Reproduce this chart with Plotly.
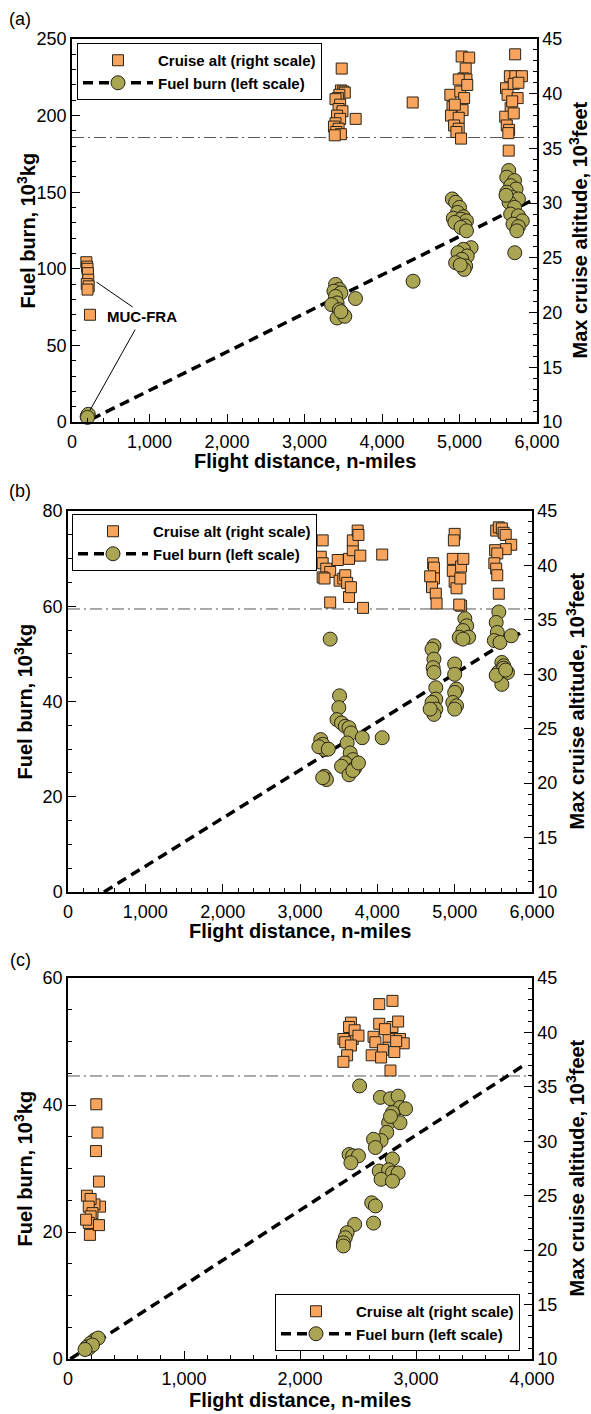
import plotly.graph_objects as go

# ---------------- data ----------------
# Panel (a)
A_ALT_D = [185, 195, 200, 205, 210, 190, 215, 200, 232,
           3480, 3470, 3500, 3520, 3450, 3430, 3400, 3460, 3440, 3490, 3420, 3460, 3400, 3380, 3440, 3410, 3470, 3390, 3660,
           4396,
           5028, 5125, 5080, 5050, 5090, 4990, 4882, 5010, 5060, 4910, 5040, 4890, 4990, 4930, 4990, 4960, 5100, 4940, 5020,
           5718, 5650, 5720, 5805, 5600, 5620, 5750, 5660, 5590, 5700, 5610, 5640, 5630, 5700, 5760, 5680, 5635]
A_ALT = [24.6, 24.2, 24.0, 23.6, 23.0, 22.6, 22.4, 22.1, 19.8,
         42.3, 40.3, 40.2, 40.1, 39.9, 39.6, 39.5, 39.0, 38.6, 38.4, 38.0, 37.7, 37.3, 37.0, 36.8, 36.5, 36.3, 36.2, 37.7,
         39.2,
         43.4, 43.3, 42.3, 41.4, 41.3, 41.3, 39.9, 40.2, 39.6, 38.8, 38.5, 38.0, 37.8, 37.1, 36.8, 36.5, 40.8, 39.0, 35.9,
         43.6, 41.6, 41.6, 41.6, 40.5, 39.9, 39.6, 38.7, 37.9, 38.2, 37.1, 36.7, 36.4, 40.9, 41.0, 39.3, 34.8]
A_FUEL_D = [195, 205, 210, 200,
            3401, 3450, 3380, 3470, 3400, 3420, 3350, 3450, 3500, 3420, 3520, 3470, 3658,
            4401,
            4907, 4950, 5000, 4975, 5050, 4920, 5020, 5090, 4940, 5070, 5020, 5090,
            5150, 5050, 4980, 5100, 5030, 4950, 5080, 5060, 5010,
            5635, 5610, 5710, 5660, 5730, 5610, 5680, 5760, 5640, 5710, 5660, 5760, 5810, 5690, 5760, 5740, 5713, 5600]
A_FUEL = [3.5, 4.5, 5.0, 3.0,
          89.8, 86.5, 85.4, 84.3, 82.0, 77.7, 76.6, 73.3, 70.0, 67.9, 69.0, 72.0, 80.6,
          91.9,
          145.6, 143.4, 140.1, 136.8, 134.0, 133.0, 132.4, 131.3, 130.3, 128.0, 127.0, 124.8,
          113.8, 112.7, 110.5, 108.4, 106.2, 104.0, 101.8, 99.6, 102.5,
          164.2, 159.8, 157.6, 154.3, 152.1, 150.0, 146.7, 145.6, 143.4, 140.1, 135.7, 134.6, 131.3, 129.2, 127.5, 124.8, 110.5, 148.0]
A_TREND_D = [250, 5950]
A_TREND_F = [1.8, 145.0]

# Panel (b)
B_ALT_D = [3293, 3268, 3293, 3340, 3390, 3293, 3317, 3390, 3488, 3512, 3560, 3585, 3634, 3683, 3683, 3746, 3756, 3780, 3634, 3610, 3658, 3815, 4063,
           4722, 4732, 4732, 4707, 4756, 4766, 4683,
           5000, 4990, 4976, 4976, 5000, 5024, 5083, 5112, 5073, 5083, 5059,
           5537, 5571, 5610, 5634, 5660, 5731, 5660, 5523, 5551, 5513, 5537, 5551, 5571]
B_ALT = [42.3, 40.8, 40.2, 39.7, 39.4, 38.9, 38.8, 36.6, 40.5, 38.6, 38.8, 39.1, 40.6, 41.4, 42.3, 43.2, 42.8, 40.9, 37.1, 38.4, 38.0, 36.1, 41.0,
         40.2, 39.8, 38.8, 38.0, 37.4, 36.5, 39.0,
         42.9, 42.3, 40.6, 39.5, 38.5, 37.9, 39.9, 40.6, 38.8, 36.3, 36.4,
         43.2, 43.5, 43.4, 43.0, 42.8, 41.9, 41.5, 41.4, 41.1, 40.2, 39.7, 39.1, 37.4]
B_FUEL_D = [3390,
            3268, 3293, 3317, 3244, 3366, 3317, 3342, 3293,
            3512, 3502, 3478, 3537, 3585, 3634, 3658, 3610, 3649, 3683, 3585, 3537, 3707, 3634, 3683, 3756, 3805, 4063,
            4732, 4707, 4732, 4722, 4732, 4756, 4756, 4707, 4756, 4732, 4683,
            5000, 5000, 5024, 5000, 4976, 5024, 5000, 5132, 5156, 5107, 5059, 5181, 5107,
            5571, 5537, 5551, 5513, 5586, 5732, 5610, 5634, 5561, 5683, 5634, 5610, 5537, 5659]
B_FUEL = [53.1,
          32.0, 31.0, 29.9, 30.5, 30.0, 24.3, 23.6, 24.0,
          41.2, 38.7, 36.2, 35.5, 34.8, 34.5, 33.4, 31.3, 29.2, 27.8, 27.1, 26.4, 26.0, 24.6, 25.5, 27.1, 32.4, 32.4,
          51.7, 51.0, 48.9, 47.1, 46.1, 42.9, 40.5, 39.8, 38.4, 37.3, 38.4,
          47.9, 45.7, 42.6, 41.9, 39.8, 39.1, 38.4, 57.4, 55.9, 54.9, 53.5, 53.5, 53.1,
          58.8, 56.6, 54.5, 52.8, 52.4, 53.8, 48.2, 47.5, 46.1, 46.1, 47.0, 43.6, 45.5, 46.6]
B_TREND_D = [465, 5880]
B_TREND_F = [0.0, 54.7]

# Panel (c)
C_ALT_D = [244, 254, 241, 267, 276, 228, 163, 195, 179, 211, 195, 179, 189, 267, 156,
           2439, 2423, 2455, 2471, 2504, 2374, 2390, 2439, 2406, 2374,
           2683, 2797, 2683, 2797, 2846, 2634, 2650, 2764, 2862, 2894, 2764, 2715, 2618, 2699, 2813, 2780, 2732, 2829]
C_ALT = [33.4, 30.8, 29.1, 26.3, 24.0, 24.2, 25.0, 24.7, 24.0, 23.4, 23.1, 22.5, 21.4, 22.3, 22.8,
         40.9, 40.5, 39.4, 40.2, 39.7, 39.4, 39.1, 38.8, 37.9, 37.3,
         42.6, 42.9, 40.8, 40.5, 41.0, 39.6, 39.1, 39.4, 39.4, 39.0, 38.6, 38.4, 37.9, 37.7, 38.2, 36.5, 40.3, 39.2]
C_FUEL_D = [228, 195, 163, 179, 260, 211, 147,
            2514, 2693, 2780, 2846, 2862, 2910, 2797, 2764, 2862, 2780, 2748, 2699, 2634, 2650,
            2423, 2455, 2504, 2439, 2797, 2683, 2764, 2797, 2846, 2699, 2797,
            2618, 2650, 2634, 2471, 2406, 2390, 2374, 2374]
C_FUEL = [3.0, 2.5, 1.9, 1.7, 3.3, 2.2, 1.5,
          43.0, 41.2, 41.0, 41.4, 39.6, 39.4, 38.8, 37.2, 37.2, 38.2, 35.7, 34.4, 34.6, 33.3,
          32.2, 32.0, 32.0, 30.9, 31.5, 29.6, 29.8, 29.3, 29.3, 28.3, 28.0,
          24.6, 24.1, 21.4, 21.2, 19.9, 19.1, 18.3, 17.8]
C_TREND_D = [20, 3950]
C_TREND_F = [0.0, 46.5]

ALT_REF = 36  # 10^3 ft reference cruise altitude

# ---------------- styling ----------------
W, H = 591, 1414
FONT = "Liberation Sans, Arial, Helvetica, sans-serif"
ORANGE = "#F8A45C"
OLIVE = "#A9A552"
EDGE = "#2a2418"


def fx(px):
    return px / W


def fy(py):
    return 1 - py / H


panels = [
    dict(key="a", xd=(72, 537), yd=(39, 422), xr=6000, yr=250, ydt=50, ymin=10,
         ad=A_ALT_D, a=A_ALT, fd=A_FUEL_D, f=A_FUEL, td=A_TREND_D, tf=A_TREND_F,
         lab_y=19, xt_y=461, lt_x=26, rt_x=578,
         leg=dict(x=fx(77), y=fy(43), xanchor="left", yanchor="top")),
    dict(key="b", xd=(68, 532), yd=(511, 892), xr=6000, yr=80, ydt=20, ymin=5,
         ad=B_ALT_D, a=B_ALT, fd=B_FUEL_D, f=B_FUEL, td=B_TREND_D, tf=B_TREND_F,
         lab_y=491, xt_y=931, lt_x=23, rt_x=575,
         leg=dict(x=fx(72), y=fy(514), xanchor="left", yanchor="top")),
    dict(key="c", xd=(68, 532), yd=(978, 1359), xr=4000, yr=60, ydt=20, ymin=5,
         ad=C_ALT_D, a=C_ALT, fd=C_FUEL_D, f=C_FUEL, td=C_TREND_D, tf=C_TREND_F,
         lab_y=960, xt_y=1400, lt_x=23, rt_x=575,
         leg=dict(x=fx(520), y=fy(1351), xanchor="right", yanchor="bottom")),
]

fig = go.Figure()
layout = dict(width=W, height=H, margin=dict(l=0, r=0, t=0, b=0, autoexpand=False),
              paper_bgcolor="white", plot_bgcolor="white",
              font=dict(family=FONT, size=18, color="black"),
              showlegend=True, annotations=[], shapes=[])

for i, p in enumerate(panels):
    n = i + 1
    xa = "x" if n == 1 else f"x{n}"
    yl = "y" if n == 1 else f"y{2 * n - 1}"
    yr_ = f"y{2 * n}"
    xkey = "xaxis" if n == 1 else f"xaxis{n}"
    ylkey = "yaxis" if n == 1 else f"yaxis{2 * n - 1}"
    yrkey = f"yaxis{2 * n}"
    lg = "legend" if n == 1 else f"legend{n}"

    common = dict(showline=True, linecolor="black", linewidth=1.5, showgrid=False, zeroline=False,
                  automargin=False,
                  ticks="inside", ticklen=8, tickwidth=1, tickcolor="black",
                  tickfont=dict(size=18, family=FONT, color="black"))
    layout[xkey] = dict(common, domain=[fx(p["xd"][0]), fx(p["xd"][1])], anchor=yl,
                        range=[0, p["xr"]], dtick=1000, tickformat=",d", mirror=True,
                        ticklabelstandoff=3,
                        minor=dict(dtick=200, ticks="inside", ticklen=4, tickcolor="black", showgrid=False))
    layout[ylkey] = dict(common, domain=[fy(p["yd"][1]), fy(p["yd"][0])], anchor=xa,
                         range=[0, p["yr"]], dtick=p["ydt"], mirror=True,
                         minor=dict(dtick=p["ymin"], ticks="inside", ticklen=4, tickcolor="black", showgrid=False))
    layout[yrkey] = dict(common, overlaying=yl, side="right", anchor=xa,
                         range=[10, 45], dtick=5,
                         minor=dict(dtick=1, ticks="inside", ticklen=4, tickcolor="black", showgrid=False))

    layout[lg] = dict(p["leg"], bordercolor="black", borderwidth=1, bgcolor="white",
                      font=dict(size=15, family=FONT, color="black"), itemwidth=70,
                      tracegroupgap=0, traceorder="normal")

    # trend line
    fig.add_trace(go.Scatter(x=p["td"], y=p["tf"], xaxis=xa, yaxis=yl, mode="lines",
                             line=dict(color="black", width=3.5, dash="10px,6px"),
                             showlegend=False, hoverinfo="skip"))
    # fuel burn markers
    fig.add_trace(go.Scatter(x=p["fd"], y=p["f"], xaxis=xa, yaxis=yl, mode="markers",
                             marker=dict(symbol="circle", size=14, color=OLIVE,
                                         line=dict(color=EDGE, width=1)),
                             cliponaxis=False, showlegend=False))
    # cruise altitude markers
    fig.add_trace(go.Scatter(x=p["ad"], y=p["a"], xaxis=xa, yaxis=yr_, mode="markers",
                             name="<b>Cruise alt (right scale)</b>", legend=lg, legendrank=1,
                             marker=dict(symbol="square", size=11, color=ORANGE,
                                         line=dict(color=EDGE, width=1)),
                             cliponaxis=False, showlegend=True))
    # legend entry for fuel burn
    fig.add_trace(go.Scatter(x=[None], y=[None], xaxis=xa, yaxis=yl, mode="lines+markers",
                             name="<b>Fuel burn (left scale)</b>", legend=lg, legendrank=2,
                             line=dict(color="black", width=3.5, dash="10px,6px"),
                             marker=dict(symbol="circle", size=14, color=OLIVE,
                                         line=dict(color=EDGE, width=1)),
                             showlegend=True))

    # reference altitude line
    layout["shapes"].append(dict(type="line", xref=f"{xa} domain", x0=0, x1=1,
                                 yref=yr_, y0=ALT_REF, y1=ALT_REF,
                                 line=dict(color="#555555", width=1, dash="12px,4px,2px,4px"),
                                 layer="below"))

    cx = fx((p["xd"][0] + p["xd"][1]) / 2)
    cy = fy((p["yd"][0] + p["yd"][1]) / 2)
    anns = layout["annotations"]
    ctr = dict(xanchor="center", yanchor="middle", showarrow=False, xref="paper", yref="paper")
    anns.append(dict(ctr, text=f"({p['key']})", x=fx(20), y=fy(p["lab_y"]),
                     font=dict(size=18, family=FONT)))
    anns.append(dict(ctr, text="<b>Flight distance, n-miles</b>",
                     x=cx, y=fy(p["xt_y"]), font=dict(size=20, family=FONT)))
    anns.append(dict(ctr, text="<b>Fuel burn, 10<sup>3</sup>kg</b>",
                     x=fx(p["lt_x"]), y=cy, textangle=-90, font=dict(size=20, family=FONT)))
    anns.append(dict(ctr, text="<b>Max cruise altitude, 10<sup>3</sup>feet</b>",
                     x=fx(p["rt_x"]), y=cy, textangle=-90, font=dict(size=20, family=FONT)))

# MUC-FRA callout (panel a)
layout["annotations"].append(dict(text="<b>MUC-FRA</b>", xref="x", yref="y", x=899, y=69,
                                  xanchor="center", yanchor="middle",
                                  showarrow=False, font=dict(size=15, family=FONT)))
for (tx, ty, hx, hy) in [(316, 91.3, 802, 74.4), (233, 7.7, 826, 61.3)]:
    layout["annotations"].append(dict(text="", xref="x", yref="y", x=tx, y=ty,
                                      axref="x", ayref="y", ax=hx, ay=hy, showarrow=True,
                                      arrowhead=0, arrowwidth=1, arrowcolor="black", standoff=0))

fig.update_layout(**layout)
fig.write_html("out.html")
